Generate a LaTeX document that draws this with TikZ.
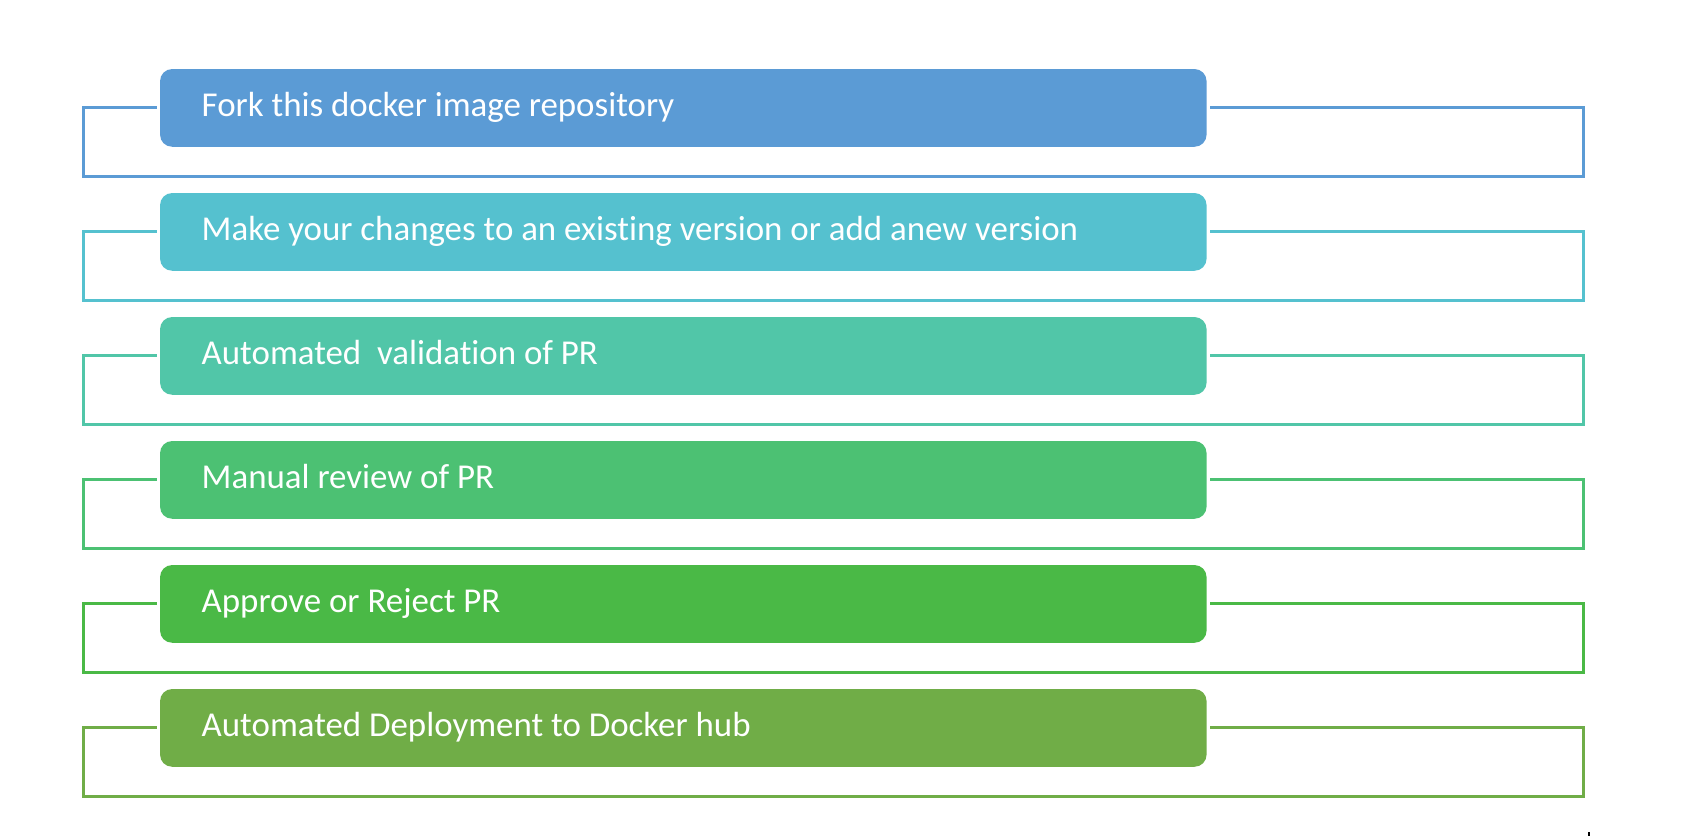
\documentclass[tikz,border=0pt]{standalone}
\usepackage{fontspec}
\setmainfont[Ligatures=NoCommon]{Carlito}
\definecolor{c1}{HTML}{5B9BD5}
\definecolor{c2}{HTML}{55C1CF}
\definecolor{c3}{HTML}{51C6A8}
\definecolor{c4}{HTML}{4CC173}
\definecolor{c5}{HTML}{4AB946}
\definecolor{c6}{HTML}{70AD47}
\begin{document}
\begin{tikzpicture}[x=1pt,y=-1pt,
  stepbox/.style={draw=none,fill=#1,rounded corners=12pt,minimum width=1046.5pt,minimum height=77.7pt,inner sep=0pt},
  steptext/.style={anchor=base west,inner sep=0pt,text=white,font=\fontsize{34.9}{40}\selectfont},
  bracket/.style={draw=#1,line width=3pt}]
\useasboundingbox (0,0) rectangle (1687,836);
\fill[white] (0,0) rectangle (1687,836);
\foreach \i/\c/\t in {0/c1/{Fork this docker image repository},
                      1/c2/{Make your changes to an existing version or add anew version},
                      2/c3/{Automated\ \ validation of PR},
                      3/c4/{Manual review of PR},
                      4/c5/{Approve or Reject PR},
                      5/c6/{Automated Deployment to Docker hub}}{
  \pgfmathsetmacro{\yc}{107.9+124*\i}
  \pgfmathsetmacro{\yb}{176+124*\i}
  \pgfmathsetmacro{\yt}{116.7+124*\i}
  \node[stepbox=\c] (box\i) at (683.3,\yc) {};
  \node[steptext] (txt\i) at (201.5,\yt) {\t};
  \coordinate (bl\i) at (83.3,\yc);
  \coordinate (br\i) at (1583.5,\yb);
  \draw[bracket=\c] ([xshift=-3pt]box\i.west) -- (bl\i) |- (br\i) |- ([xshift=3.5pt]box\i.east);
}
\coordinate (tickA) at (1589,832);
\coordinate (tickB) at (1589,836);
\draw[black,line width=1.5pt] (tickA) -- (tickB);
\end{tikzpicture}
\end{document}
